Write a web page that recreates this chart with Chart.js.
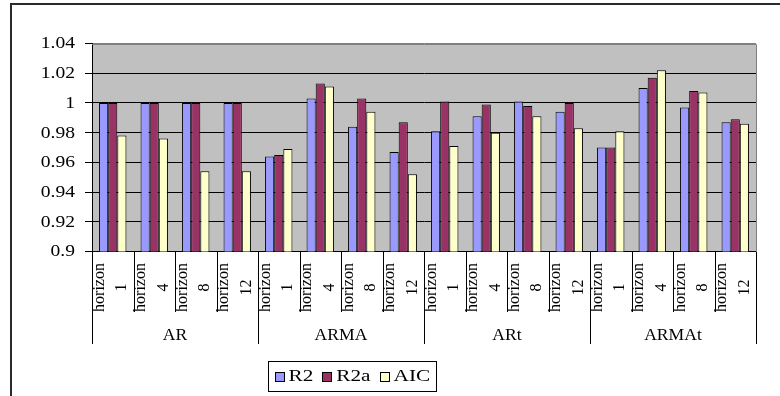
<!DOCTYPE html>
<html>
<head>
<meta charset="utf-8">
<script src="https://cdn.jsdelivr.net/npm/chart.js@4/dist/chart.umd.min.js"></script>
<style>
  html, body { margin: 0; padding: 0; background: #fff; }
  #wrap { width: 780px; height: 396px; position: relative; }
</style>
</head>
<body>
<div id="wrap"><canvas id="c"></canvas></div>
<script>
// Model families and forecast horizons (categories)
const groups = ['AR', 'ARMA', 'ARt', 'ARMAt'];
const horizons = ['1', '4', '8', '12'];
const horizonWord = 'horizon';

// Series
const seriesNames = ['R2', 'R2a', 'AIC'];
const r2  = [1.000, 1.000, 1.000, 1.000, 0.964, 1.003, 0.984, 0.967, 0.981, 0.991, 1.001, 0.994, 0.970, 1.010, 0.997, 0.987];
const r2a = [1.000, 1.000, 1.000, 1.000, 0.965, 1.013, 1.003, 0.987, 1.001, 0.999, 0.998, 1.000, 0.970, 1.017, 1.008, 0.989];
const aic = [0.978, 0.976, 0.954, 0.954, 0.969, 1.011, 0.994, 0.952, 0.971, 0.980, 0.991, 0.983, 0.981, 1.022, 1.007, 0.986];

// Value axis
const yMin = 0.9, yMax = 1.04, yStep = 0.02;

const seriesColors = ['#9999FF', '#993366', '#FFFFCC'];
const SERIF = '"Liberation Serif", "Times New Roman", serif';

const labels = [];
groups.forEach(() => horizons.forEach(h => labels.push([horizonWord, h])));

// text drawn with a slight horizontal widening
function wideText(ctx, text, x, y, align, sx) {
  ctx.save();
  ctx.translate(x, y);
  ctx.scale(sx, 1);
  ctx.textAlign = align;
  ctx.textBaseline = 'middle';
  ctx.fillText(text, 0, 0);
  ctx.restore();
}
function textWidth(ctx, text, sx) { return ctx.measureText(text).width * sx; }

const decor = {
  id: 'decor',
  beforeDraw(chart) {
    const { ctx, chartArea: a } = chart;
    ctx.save();
    ctx.fillStyle = '#C0C0C0';
    ctx.fillRect(a.left, a.top, a.right - a.left, a.bottom - a.top);
    ctx.restore();
  },
  afterDraw(chart) {
    const { ctx, chartArea: a } = chart;
    const xs = chart.scales.x, ys = chart.scales.y;
    ctx.save();

    // plot frame, top and right edges
    ctx.strokeStyle = '#808080';
    ctx.lineWidth = 1;
    ctx.beginPath();
    ctx.moveTo(a.left, Math.round(a.top) + 0.5);
    ctx.lineTo(Math.round(a.right) + 0.5, Math.round(a.top) + 0.5);
    ctx.lineTo(Math.round(a.right) + 0.5, Math.round(a.bottom));
    ctx.stroke();

    // outer chart frame
    ctx.strokeStyle = '#2a2a2a';
    ctx.lineWidth = 2;
    ctx.beginPath();
    ctx.moveTo(11, 396);
    ctx.lineTo(11, 4);
    ctx.lineTo(780, 4);
    ctx.stroke();

    // value axis labels
    ctx.fillStyle = '#000';
    ctx.font = `17px ${SERIF}`;
    ys.ticks.forEach(t => {
      const y = ys.getPixelForValue(t.value);
      wideText(ctx, String(Number(t.value.toFixed(2))), a.left - 17, y + 0.5, 'right', 1.15);
    });

    // category separators below the axis
    const n = labels.length;
    const cw = (a.right - a.left) / n;
    const base = Math.round(a.bottom);
    ctx.strokeStyle = '#000';
    ctx.lineWidth = 1;
    for (let i = 0; i <= n; i++) {
      const x = Math.round(a.left + i * cw) + 0.5;
      const isGroup = i % horizons.length === 0;
      ctx.beginPath();
      ctx.moveTo(x, base);
      ctx.lineTo(x, isGroup ? 344 : 312);
      ctx.stroke();
    }

    // rotated category labels: two lines each
    ctx.font = `16px ${SERIF}`;
    ctx.textAlign = 'center';
    ctx.textBaseline = 'middle';
    labels.forEach((lab, i) => {
      const xc = xs.getPixelForValue(i);
      const offs = [-13, 9.5];
      lab.forEach((line, k) => {
        ctx.save();
        ctx.translate(xc + offs[k], 287.5);
        ctx.rotate(-Math.PI / 2);
        ctx.fillText(line, 0, 0);
        ctx.restore();
      });
    });

    // group labels
    ctx.font = `16px ${SERIF}`;
    groups.forEach((g, gi) => {
      const x0 = a.left + gi * horizons.length * cw;
      const x1 = x0 + horizons.length * cw;
      wideText(ctx, g, (x0 + x1) / 2, 335.5, 'center', 1.1);
    });

    // legend
    ctx.font = `17px ${SERIF}`;
    const sx = 1.25, sw = 10, gapS = 4, gapI = 9, pad = 6;
    let total = pad * 2;
    seriesNames.forEach((s, i) => {
      total += sw + gapS + textWidth(ctx, s, sx) + (i < seriesNames.length - 1 ? gapI : 0);
    });
    const bx = 268.5, by = 361.5, bh = 30;
    ctx.strokeStyle = '#000';
    ctx.lineWidth = 1;
    ctx.strokeRect(bx, by, Math.round(total), bh);
    let x = bx + pad;
    const cy = by + bh / 2;
    chart.data.datasets.forEach((ds, i) => {
      ctx.fillStyle = ds.backgroundColor;
      ctx.fillRect(Math.round(x) + 0.5, Math.round(cy - sw / 2) + 0.5, sw - 1, sw - 1);
      ctx.strokeStyle = '#000';
      ctx.strokeRect(Math.round(x) + 0.5, Math.round(cy - sw / 2) + 0.5, sw - 1, sw - 1);
      x += sw + gapS;
      ctx.fillStyle = '#000';
      wideText(ctx, ds.label, x, cy + 0.5, 'left', sx);
      x += textWidth(ctx, ds.label, sx) + gapI;
    });

    ctx.restore();
  }
};

const seriesData = [r2, r2a, aic];

new Chart(document.getElementById('c'), {
  type: 'bar',
  data: {
    labels: labels,
    datasets: seriesNames.map((name, i) => ({
      label: name,
      data: seriesData[i],
      backgroundColor: seriesColors[i],
      borderColor: '#000',
      borderWidth: 1,
      borderSkipped: 'start',
      categoryPercentage: 0.66,
      barPercentage: 1.0
    }))
  },
  options: {
    responsive: true,
    maintainAspectRatio: false,
    animation: false,
    devicePixelRatio: 1,
    layout: { padding: { left: 0, top: 43.5, right: 24, bottom: 0 } },
    plugins: { legend: { display: false }, tooltip: { enabled: false } },
    scales: {
      x: {
        type: 'category',
        grid: { display: false },
        border: { display: true, color: '#000', width: 1 },
        ticks: { display: false },
        afterFit: s => { s.height = 144.5; }
      },
      y: {
        min: yMin,
        max: yMax,
        ticks: { display: false, stepSize: yStep },
        grid: {
          color: c => (c.tick && c.tick.value > yMax - 0.001) ? '#808080' : '#000',
          tickColor: '#000',
          tickLength: 7,
          lineWidth: 1
        },
        border: { display: true, color: '#000', width: 1 },
        afterFit: s => { s.width = 92; }
      }
    }
  },
  plugins: [decor]
});
</script>
</body>
</html>
